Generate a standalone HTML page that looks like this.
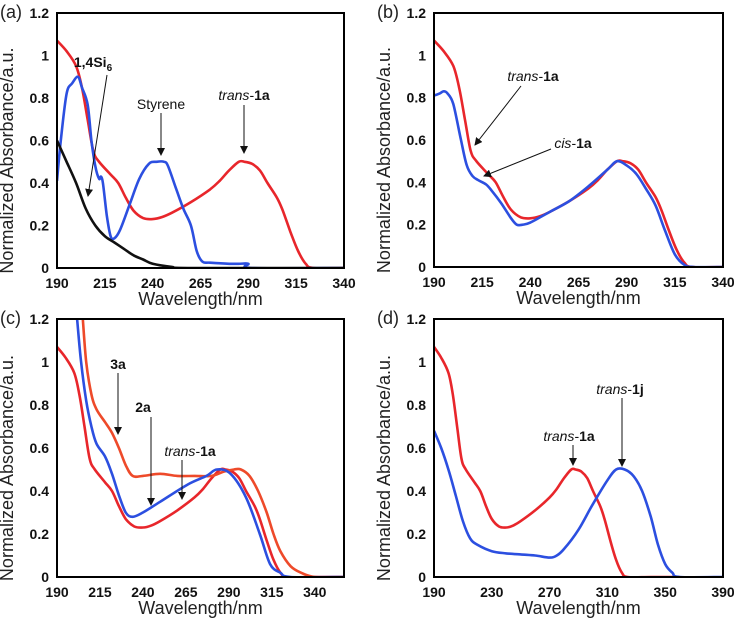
<!DOCTYPE html>
<html><head><meta charset="utf-8"><style>
html,body{margin:0;padding:0;background:#fff;}
svg{display:block;font-family:"Liberation Sans",Arial,sans-serif;}
.tk{font-size:14px;font-weight:bold;fill:#111;}
.ttl{font-size:18px;fill:#222;}
.ann{font-size:14px;fill:#111;}
</style></head><body>
<svg id="c" width="734" height="622" viewBox="0 0 734 622">
<defs><marker id="ah" markerWidth="8" markerHeight="8" refX="7" refY="4" orient="auto" markerUnits="userSpaceOnUse"><path d="M0,0 L8,4 L0,8 z" fill="#111"/></marker></defs>
</svg>
<script>
// ---- data ----
const trans1aX=[190,195,200,203,206,209,212,218,222,226,230,235,240,245,250,260,270,275,280,285,288,292,296,300,305,308,312,316,320,324,340,360];
const trans1aY=[1.07,1.02,0.95,0.85,0.7,0.55,0.5,0.44,0.4,0.33,0.27,0.235,0.23,0.24,0.26,0.31,0.37,0.41,0.46,0.5,0.5,0.49,0.46,0.4,0.33,0.27,0.17,0.08,0.02,0,0,0];
const styreneX=[190,192,195,198,201,203,206,208,210,212,213,214,216,218,220,223,228,233,238,242,246,248,252,256,260,263,266,270,280,285,290,292,340];
const styreneY=[0.41,0.6,0.82,0.87,0.9,0.85,0.77,0.6,0.48,0.42,0.43,0.4,0.25,0.15,0.14,0.18,0.3,0.42,0.49,0.5,0.5,0.48,0.38,0.28,0.2,0.08,0.03,0.025,0.02,0.02,0.02,0,0];
const si6X=[190,195,200,205,210,215,220,225,230,235,240,250,260,340];
const si6Y=[0.6,0.5,0.4,0.28,0.2,0.15,0.12,0.09,0.06,0.04,0.02,0.005,0,0];
const cis1aX=[190,193,195,197,200,204,207,210,213,217,220,225,230,233,236,240,250,260,270,280,285,290,295,300,305,310,315,320,325,340];
const cis1aY=[0.81,0.82,0.83,0.82,0.77,0.6,0.48,0.43,0.41,0.39,0.36,0.3,0.23,0.2,0.2,0.21,0.26,0.31,0.38,0.46,0.5,0.48,0.44,0.37,0.29,0.17,0.06,0.01,0,0];
const c2aX=[201.7,204,207,210,213,218,222,226,230,234,240,250,266,277,283,291,300,308,314,320,326,357];
const c2aY=[1.2,1.0,0.82,0.7,0.62,0.56,0.48,0.38,0.3,0.28,0.3,0.35,0.43,0.47,0.5,0.48,0.37,0.2,0.06,0.02,0,0];
const c3aX=[205,207,210,213,218,222,226,230,234,240,250,260,270,280,287,293,297,302,307,312,316,320,326,332,340,357];
const c3aY=[1.2,1.0,0.85,0.78,0.72,0.67,0.6,0.52,0.47,0.47,0.48,0.47,0.47,0.47,0.49,0.5,0.5,0.47,0.4,0.3,0.2,0.12,0.05,0.02,0,0];
const trans1jX=[190,195,200,205,210,215,220,230,240,250,260,270,275,280,290,300,310,316,322,328,334,340,345,350,355,360,390];
const trans1jY=[0.68,0.6,0.5,0.38,0.26,0.18,0.15,0.12,0.11,0.105,0.1,0.09,0.1,0.13,0.22,0.34,0.45,0.5,0.5,0.47,0.4,0.28,0.15,0.06,0.02,0,0];
const yTicks=[0,0.2,0.4,0.6,0.8,1,1.2];
const xTicksA=[190,215,240,265,290,315,340];
const xTicksD=[190,230,270,310,350,390];

const RED="#e8262b",BLUE="#2c4fe0",BLACK="#111",ORANGE="#ee4a2a";
const svg=document.getElementById('c');
const NS="http://www.w3.org/2000/svg";
function mk(tag,attrs,parent){const e=document.createElementNS(NS,tag);for(const k in attrs)e.setAttribute(k,attrs[k]);(parent||svg).appendChild(e);return e;}
function smooth(pts){
  let d='M'+pts[0][0].toFixed(1)+','+pts[0][1].toFixed(1);
  for(let i=0;i<pts.length-1;i++){
    const p0=pts[i-1]||pts[i],p1=pts[i],p2=pts[i+1],p3=pts[i+2]||p2;
    const c1=[p1[0]+(p2[0]-p0[0])/6,p1[1]+(p2[1]-p0[1])/6];
    const c2=[p2[0]-(p3[0]-p1[0])/6,p2[1]-(p3[1]-p1[1])/6];
    d+=' C'+c1[0].toFixed(1)+','+c1[1].toFixed(1)+' '+c2[0].toFixed(1)+','+c2[1].toFixed(1)+' '+p2[0].toFixed(1)+','+p2[1].toFixed(1);
  }
  return d;
}

const panels=[
 {id:'a',x0:57,y0:13,x1:344,y1:268,xmin:190,xmax:340,xt:xTicksA,
  series:[[trans1aX,trans1aY,RED,'trans-1a'],[styreneX,styreneY,BLUE,'styrene'],[si6X,si6Y,BLACK,'si6']],
  ann:[{t:'<tspan font-weight="bold">1,4Si</tspan><tspan font-weight="bold" font-size="10" dy="4">6</tspan>',x:93,y:67,a:[107,75,88,196],n:'si6'},
       {t:'Styrene',x:161,y:109,a:[161,113,161,155],n:'styrene'},
       {t:'<tspan font-style="italic">trans</tspan>-<tspan font-weight="bold">1a</tspan>',x:244,y:100,a:[244,105,244,153],n:'trans-1a'}]},
 {id:'b',x0:434,y0:13,x1:723,y1:267,xmin:190,xmax:340,xt:xTicksA,
  series:[[trans1aX,trans1aY,RED,'trans-1a'],[cis1aX,cis1aY,BLUE,'cis-1a']],
  ann:[{t:'<tspan font-style="italic">trans</tspan>-<tspan font-weight="bold">1a</tspan>',x:533,y:81,a:[521,86,475,145],n:'trans-1a'},
       {t:'<tspan font-style="italic">cis</tspan>-<tspan font-weight="bold">1a</tspan>',x:573,y:148,a:[551,149,484,176],n:'cis-1a'}]},
 {id:'c',x0:57,y0:319,x1:344,y1:577,xmin:190,xmax:357,xt:xTicksA,
  series:[[trans1aX,trans1aY,RED,'trans-1a'],[c3aX,c3aY,ORANGE,'3a'],[c2aX,c2aY,BLUE,'2a']],
  ann:[{t:'<tspan font-weight="bold">3a</tspan>',x:118,y:369,a:[118,373,118,434],n:'3a'},
       {t:'<tspan font-weight="bold">2a</tspan>',x:143,y:412,a:[151,417,151,505],n:'2a'},
       {t:'<tspan font-style="italic">trans</tspan>-<tspan font-weight="bold">1a</tspan>',x:190,y:456,a:[182,460,182,499],n:'trans-1a'}]},
 {id:'d',x0:434,y0:319,x1:723,y1:577,xmin:190,xmax:390,xt:xTicksD,
  series:[[trans1aX,trans1aY,RED,'trans-1a'],[trans1jX,trans1jY,BLUE,'trans-1j']],
  ann:[{t:'<tspan font-style="italic">trans</tspan>-<tspan font-weight="bold">1a</tspan>',x:569,y:441,a:[573,445,573,465],n:'trans-1a'},
       {t:'<tspan font-style="italic">trans</tspan>-<tspan font-weight="bold">1j</tspan>',x:620,y:394,a:[622,398,622,466],n:'trans-1j'}]}
];

panels.forEach(p=>{
  const g=mk('g',{});
  
  
  const sx=v=>p.x0+(v-p.xmin)/(p.xmax-p.xmin)*(p.x1-p.x0);
  const sy=v=>p.y1-v/1.2*(p.y1-p.y0);
  const cid='clip'+p.id;
  const cp=mk('clipPath',{id:cid},g);mk('rect',{x:p.x0,y:p.y0,width:p.x1-p.x0,height:p.y1-p.y0},cp);
  p.series.forEach(s=>{
    const pts=s[0].map((x,i)=>[sx(x),sy(s[1][i])]);
    const path=mk('path',{d:smooth(pts),fill:'none',stroke:s[2],'stroke-width':2.6,'stroke-linejoin':'round','clip-path':'url(#'+cid+')'},g);
    
    
  });
  const box=mk('rect',{x:p.x0,y:p.y0,width:p.x1-p.x0,height:p.y1-p.y0,fill:'none',stroke:'#000','stroke-width':2},g);
  
  
  yTicks.forEach(v=>{
    const t=mk('text',{x:p.x0-8,y:sy(v)+5,'text-anchor':'end','class':'tk'},g);t.textContent=String(v);
    
    
  });
  p.xt.forEach(v=>{
    const t=mk('text',{x:sx(v),y:p.y1+20,'text-anchor':'middle','class':'tk'},g);t.textContent=String(v);
    
    
  });
  const xt=mk('text',{x:(p.x0+p.x1)/2,y:p.y1+37,'text-anchor':'middle','class':'ttl'},g);xt.textContent='Wavelength/nm';
  
  
  const cy=(p.y0+p.y1)/2+20, cx=p.x0-44;
  const yt=mk('text',{x:cx,y:cy,'text-anchor':'middle','class':'ttl',transform:'rotate(-90 '+cx+' '+cy+')'},g);yt.textContent='Normalized Absorbance/a.u.';
  
  
  const pl=mk('text',{x:p.x0-57,y:p.y0+5,'class':'ttl','font-size':'15'},g);pl.textContent='('+p.id+')';
  
  
  p.ann.forEach(a=>{
    const t=mk('text',{x:a.x,y:a.y,'text-anchor':'middle','class':'ann'},g);t.innerHTML=a.t;
    
    
    const l=mk('line',{x1:a.a[0],y1:a.a[1],x2:a.a[2],y2:a.a[3],stroke:'#111','stroke-width':1,'marker-end':'url(#ah)'},g);
    
    
  });
});
</script>
</body></html>
